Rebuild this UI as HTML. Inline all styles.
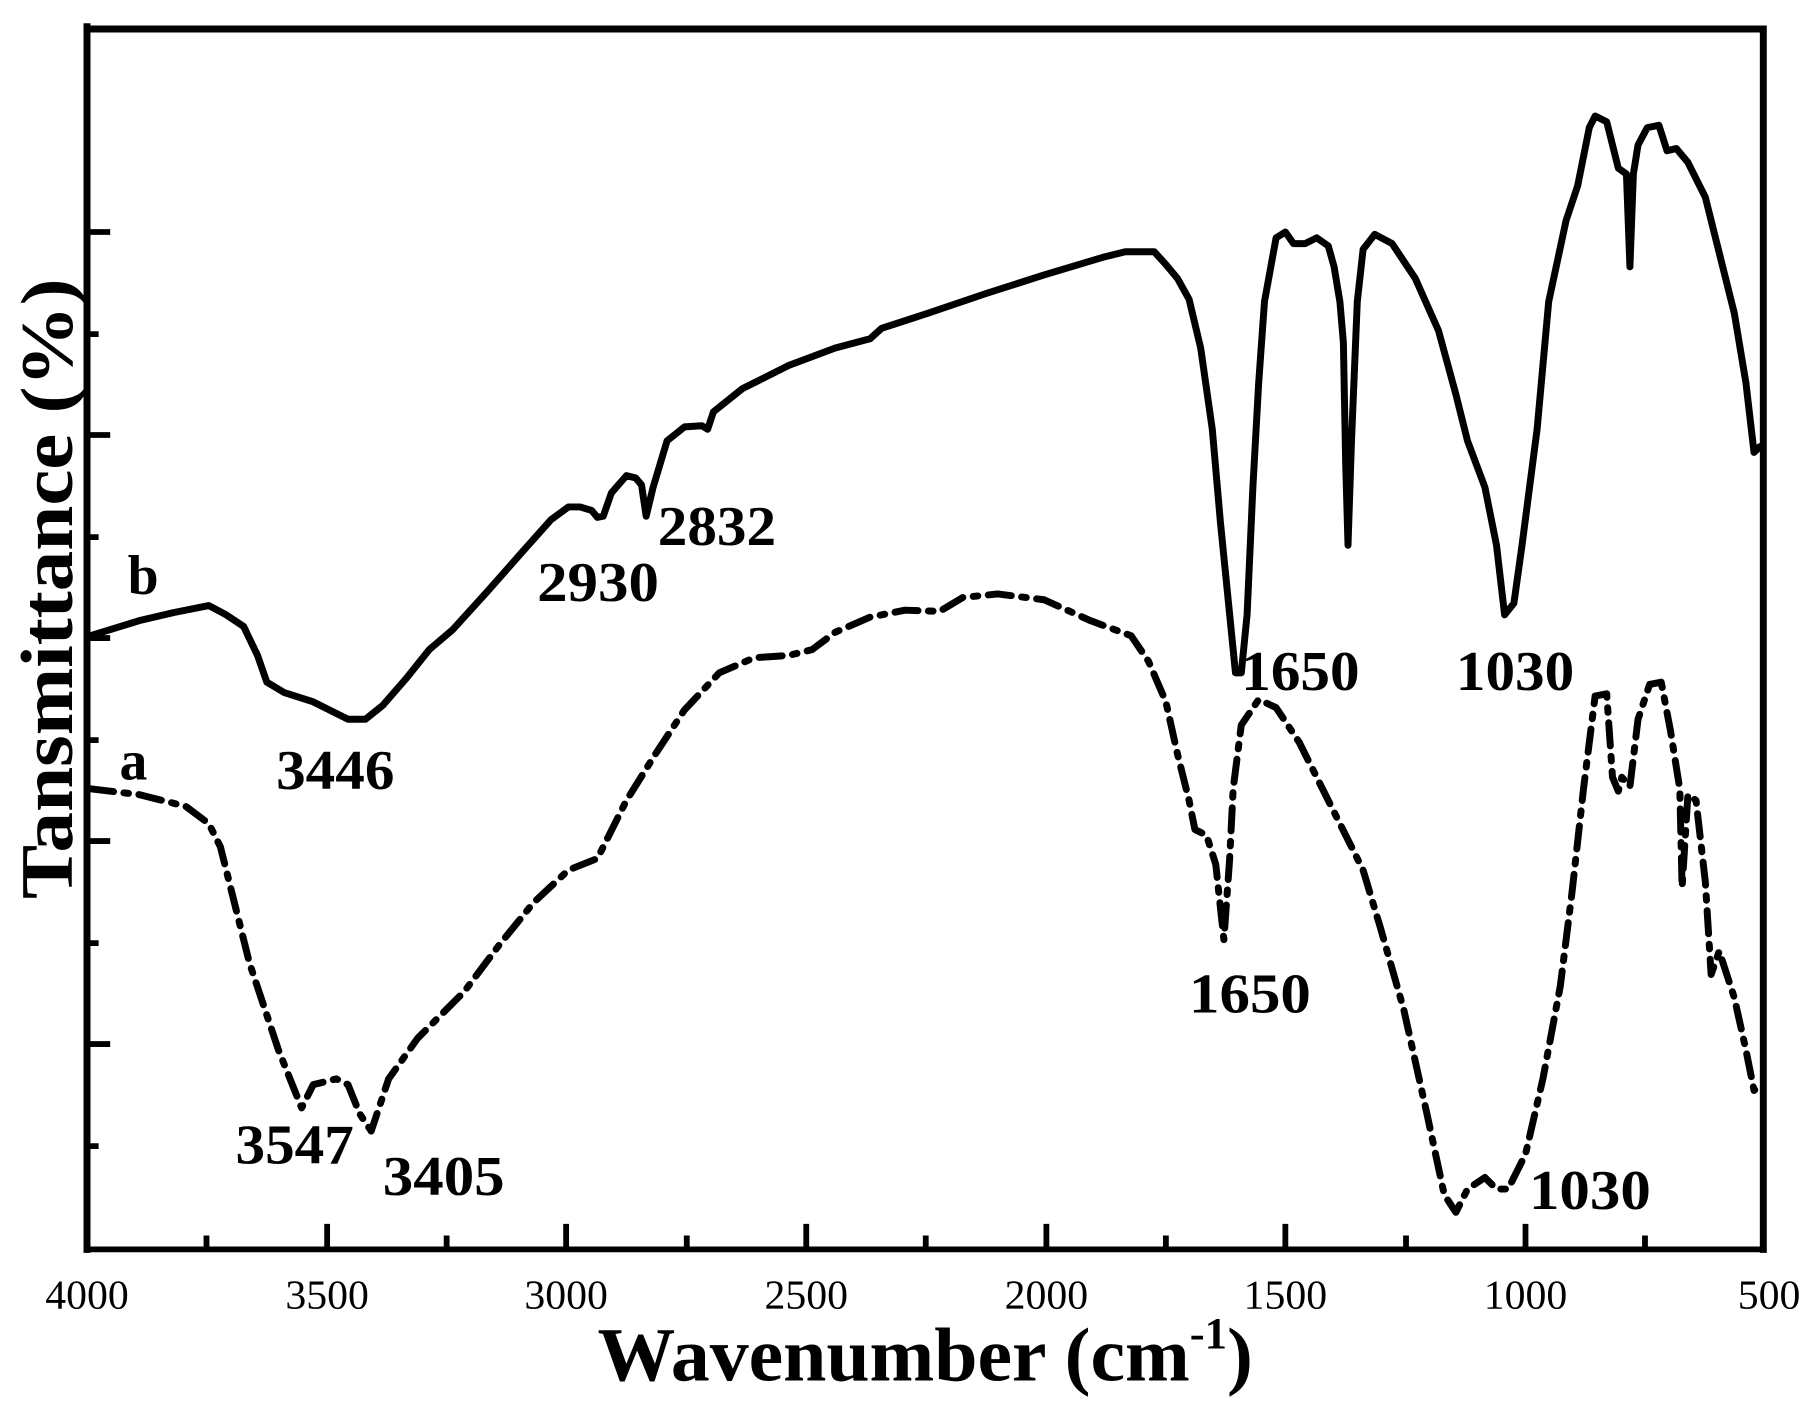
<!DOCTYPE html>
<html><head><style>html,body{margin:0;padding:0;background:#fff}svg{display:block}</style></head>
<body>
<svg width="1819" height="1411" viewBox="0 0 1568 1216.3" xmlns="http://www.w3.org/2000/svg" font-family="'Liberation Serif', serif">
<rect width="1568" height="1216.3" fill="#fff"/>
<g stroke="#000" stroke-width="5" fill="none">
<path d="M75,1077V113M75,200h20M75,288h10M75,375h20M75,463h10M75,550h20M75,638h10M75,725h20M75,813h10M75,900h20M75,988h10"/>
<path d="M75,1077h1445M178,1077v-12M282,1077v-22M385,1077v-12M488,1077v-22M592,1077v-12M695,1077v-22M798,1077v-12M902,1077v-22M1005,1077v-12M1108,1077v-22M1212,1077v-12M1315,1077v-22M1418,1077v-12"/>
</g>
<path d="M72,25H1520V1080" stroke="#000" stroke-width="6" fill="none"/>
<path d="M75,20V1080" stroke="#000" stroke-width="6"/>
<g fill="none" stroke="#000" stroke-width="6" stroke-linejoin="round" stroke-linecap="round">
<polyline points="78,548 120,535 150,528 180,522 195,530 210,540 222,565 230,588 245,597 270,605 300,620 315,620 330,608 350,585 370,560 390,543 420,510 450,476 475,448 490,437 500,437 510,440 515,446 520,445 527,425 540,410 548,412 553,418 557,445 563,420 575,380 590,368 605,367 610,370 615,355 640,335 680,315 720,300 750,292 760,283 800,270 850,253 900,237 950,222 970,217 995,217 1005,228 1015,240 1025,258 1035,300 1045,370 1052,450 1060,530 1065,580 1070,580 1075,530 1080,420 1085,330 1090,260 1100,205 1108,200 1115,210 1125,210 1135,205 1145,212 1150,230 1155,260 1158,295 1160,400 1162,470 1165,380 1170,260 1175,215 1185,202 1200,210 1220,240 1240,285 1255,340 1265,380 1280,420 1290,470 1297,530 1305,520 1312,470 1325,370 1335,260 1350,190 1360,160 1370,110 1375,100 1385,105 1395,145 1402,150 1405,230 1408,150 1412,125 1420,110 1430,108 1437,130 1445,128 1455,140 1470,170 1480,210 1495,270 1505,330 1512,390 1517,385"/>
<polyline stroke-dasharray="20 9 4 9" points="78,680 120,685 160,695 180,710 190,730 200,770 215,830 240,905 260,955 270,935 290,930 300,935 310,960 320,975 335,930 360,895 385,870 400,855 430,815 460,778 490,750 515,740 525,720 540,690 565,650 590,612 620,580 650,567 680,565 700,560 720,545 750,532 780,526 810,527 830,515 860,512 900,517 940,535 975,548 990,570 1005,605 1015,650 1025,690 1030,715 1040,720 1048,745 1055,810 1060,740 1063,680 1070,625 1085,603 1100,610 1120,640 1140,680 1160,720 1175,750 1190,800 1210,870 1230,960 1245,1030 1255,1045 1265,1025 1280,1015 1290,1025 1300,1025 1315,995 1330,930 1345,850 1355,770 1365,680 1375,600 1385,598 1390,670 1395,682 1398,670 1405,678 1412,620 1422,590 1432,588 1440,630 1448,680 1450,765 1455,685 1462,690 1470,760 1475,840 1482,820 1495,860 1505,905 1512,940 1518,935"/>
</g>
<g font-weight="bold" font-size="48" fill="#000" lengthAdjust="spacingAndGlyphs">
<text x="110" y="512">b</text>
<text x="103" y="672">a</text>
<text x="238" y="680" textLength="102" lengthAdjust="spacingAndGlyphs">3446</text>
<text x="463" y="518" textLength="105" lengthAdjust="spacingAndGlyphs">2930</text>
<text x="567" y="470" textLength="102" lengthAdjust="spacingAndGlyphs">2832</text>
<text x="1070" y="595" textLength="102" lengthAdjust="spacingAndGlyphs">1650</text>
<text x="1255" y="595" textLength="102" lengthAdjust="spacingAndGlyphs">1030</text>
<text x="1025" y="873" textLength="105" lengthAdjust="spacingAndGlyphs">1650</text>
<text x="203" y="1003" textLength="102" lengthAdjust="spacingAndGlyphs">3547</text>
<text x="330" y="1030" textLength="105" lengthAdjust="spacingAndGlyphs">3405</text>
<text x="1318" y="1042" textLength="105" lengthAdjust="spacingAndGlyphs">1030</text>
</g>
<g font-size="36" fill="#000" text-anchor="middle">
<text x="75" y="1128">4000</text><text x="282" y="1128">3500</text><text x="488" y="1128">3000</text><text x="695" y="1128">2500</text><text x="902" y="1128">2000</text><text x="1108" y="1128">1500</text><text x="1315" y="1128">1000</text><text x="1525" y="1128">500</text>
</g>
<text x="515" y="1190" font-size="66" font-weight="bold" textLength="565" lengthAdjust="spacingAndGlyphs">Wavenumber (cm<tspan font-size="38" dy="-28">-1</tspan><tspan dy="28">)</tspan></text>
<text transform="translate(62,775) rotate(-90)" font-size="64" font-weight="bold" textLength="535" lengthAdjust="spacingAndGlyphs">Tansmittance (%)</text>
</svg>
</body></html>
